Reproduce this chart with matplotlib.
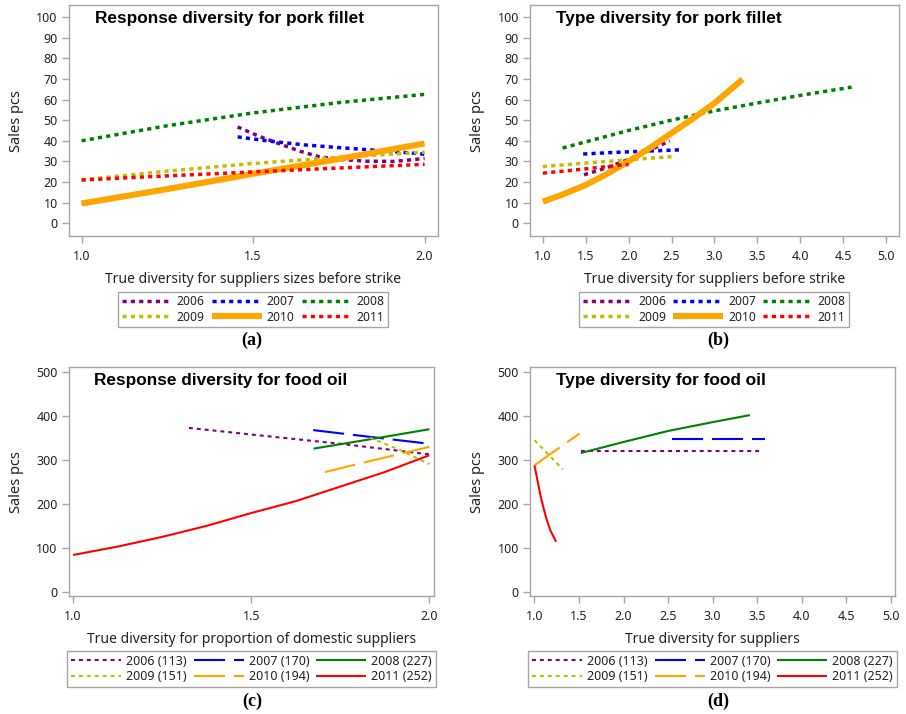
import matplotlib
matplotlib.use("Agg")
import matplotlib.pyplot as plt
import numpy as np

plt.rcParams['font.family'] = ['Noto Sans', 'DejaVu Sans']

# ---------------- data ----------------
years = ["2006", "2007", "2008", "2009", "2010", "2011"]
oil_labels = ["2006 (113)", "2007 (170)", "2008 (227)", "2009 (151)", "2010 (194)", "2011 (252)"]
colors = ["#800080", "#0000ff", "#008000", "#bfbf00", "#ffa500", "#ff0000"]

# (a) Response diversity for pork fillet
a_x = {
    "2006": [1.455, 1.52, 1.587, 1.64, 1.694, 1.76, 1.83, 1.91, 2.0],
    "2007": [1.455, 1.55, 1.65, 1.75, 1.85, 1.93, 2.0],
    "2008": [1.0, 1.25, 1.5, 1.75, 2.0],
    "2009": [1.0, 1.25, 1.5, 1.75, 2.0],
    "2010": [1.0, 1.25, 1.5, 1.75, 2.0],
    "2011": [1.0, 1.25, 1.5, 1.75, 2.0],
}
a_y = {
    "2006": [46.7, 42.0, 37.9, 34.8, 32.2, 30.9, 30.1, 30.0, 31.4],
    "2007": [41.9, 39.8, 38.0, 36.7, 35.5, 34.5, 33.5],
    "2008": [40.0, 47.3, 53.5, 58.5, 62.5],
    "2009": [21.0, 25.3, 29.0, 32.0, 34.5],
    "2010": [9.6, 16.6, 24.0, 31.2, 38.7],
    "2011": [21.0, 23.0, 24.9, 26.8, 28.6],
}

# (b) Type diversity for pork fillet
b_x = {
    "2006": [1.48, 1.75, 2.0, 2.25, 2.48],
    "2007": [1.47, 1.8, 2.2, 2.6],
    "2008": [1.23, 1.5, 2.0, 2.5, 3.0, 3.5, 4.0, 4.6],
    "2009": [1.0, 1.5, 2.0, 2.5],
    "2010": [1.0, 1.25, 1.5, 1.75, 2.0, 2.25, 2.5, 2.75, 3.0, 3.33],
    "2011": [1.0, 1.5, 2.0],
}
b_y = {
    "2006": [23.5, 27.0, 31.0, 35.5, 40.0],
    "2007": [33.6, 34.3, 35.0, 35.6],
    "2008": [36.5, 39.5, 45.0, 50.0, 54.5, 58.3, 62.0, 66.0],
    "2009": [27.5, 29.2, 30.8, 32.3],
    "2010": [10.5, 14.3, 18.6, 24.0, 30.0, 36.6, 43.7, 50.8, 58.2, 69.8],
    "2011": [24.3, 26.4, 28.6],
}

# (c) Response diversity for food oil
c_x = {
    "2006": [1.325, 1.5, 1.75, 2.0],
    "2007": [1.674, 1.84, 2.0],
    "2008": [1.675, 1.84, 2.0],
    "2009": [1.833, 1.92, 2.0],
    "2010": [1.707, 1.85, 2.0],
    "2011": [1.0, 1.125, 1.25, 1.375, 1.5, 1.625, 1.75, 1.875, 2.0],
}
c_y = {
    "2006": [373, 358, 337, 313],
    "2007": [368, 352, 337],
    "2008": [326, 348, 370],
    "2009": [351, 322, 291],
    "2010": [273, 301, 330],
    "2011": [85, 104, 126, 151, 180, 207, 240, 273, 311],
}

# (d) Type diversity for food oil
d_x = {
    "2006": [1.52, 2.5, 3.53],
    "2007": [2.545, 3.0, 3.59],
    "2008": [1.52, 2.0, 2.5, 3.0, 3.42],
    "2009": [1.0, 1.16, 1.318],
    "2010": [1.0, 1.25, 1.506],
    "2011": [1.0, 1.03, 1.063, 1.10, 1.13, 1.18, 1.243],
}
d_y = {
    "2006": [320, 320, 320],
    "2007": [348, 348, 348],
    "2008": [316, 341, 366, 386, 402],
    "2009": [345, 312, 279],
    "2010": [288, 324, 360],
    "2011": [288, 258, 224, 193, 170, 140, 115],
}

# ---------------- styles ----------------
pork_styles = {y: dict(lw=2.5, dashes=(1.2, 1.2)) for y in years}
pork_styles["2010"] = dict(lw=4.4, dashes=())
oil_styles = {
    "2006": dict(lw=1.5, dashes=(1.9, 1.9)),
    "2007": dict(lw=1.5, dashes=(14.9, 4.3)),
    "2008": dict(lw=1.5, dashes=()),
    "2009": dict(lw=1.5, dashes=(1.9, 1.9)),
    "2010": dict(lw=1.5, dashes=(14.9, 4.3)),
    "2011": dict(lw=1.5, dashes=()),
}

fig = plt.figure(figsize=(9.06, 7.14), dpi=100)

SPINE = "#a6a6a6"
TXT = "#222222"


def style_axes(ax, xlim, ylim, xticks, yticks, xlabel, title, xl_y):
    ax.set_xlim(*xlim)
    ax.set_ylim(*ylim)
    ax.set_xticks(xticks)
    ax.set_xticklabels([f"{t:.1f}" for t in xticks])
    ax.set_yticks(yticks)
    ax.set_yticklabels([f"{int(t)}" for t in yticks])
    for s in ax.spines.values():
        s.set_color(SPINE)
        s.set_linewidth(1.0)
    ax.tick_params(axis='both', direction='out', length=5, width=1.0,
                   color=SPINE, labelsize=9, labelcolor=TXT)
    ax.tick_params(axis='x', pad=5)
    ax.tick_params(axis='y', pad=3)
    ax.set_xlabel(xlabel, fontsize=10, color=TXT)
    ax.xaxis.set_label_coords(0.5, xl_y)
    ax.set_ylabel("Sales pcs", fontsize=10.5, color=TXT)
    ax.yaxis.set_label_coords(-0.122, 0.5)
    ax.text(0.07, 0.942, title, transform=ax.transAxes, fontsize=12.4,
            fontweight='bold', va='center', ha='left', color='black',
            family=['Liberation Sans', 'DejaVu Sans'])


def draw(ax, xs, ys, styles, labels):
    handles = []
    for yr, col, lab in zip(years, colors, labels):
        st = styles[yr]
        ln, = ax.plot(xs[yr], ys[yr], color=col, lw=st['lw'], label=lab,
                      solid_capstyle='butt', dash_capstyle='butt')
        if st['dashes']:
            ln.set_dashes(st['dashes'])
        handles.append(ln)
    return handles


def legend(ax, handles, labels, y, fs):
    order = [0, 3, 1, 4, 2, 5]  # fill row-wise
    em = fs * 100 / 72
    leg = ax.legend([handles[i] for i in order], [labels[i] for i in order],
                    loc='center', bbox_to_anchor=(0.5, y),
                    ncol=3, fontsize=fs, frameon=True, fancybox=False,
                    edgecolor=SPINE, framealpha=1, handlelength=50 / em,
                    handletextpad=5 / em, columnspacing=7 / em, labelspacing=0.2,
                    borderpad=0.3, borderaxespad=0)
    leg.get_frame().set_linewidth(1.0)
    for t in leg.get_texts():
        t.set_color(TXT)


ax_a = fig.add_axes([0.076, 0.669, 0.407, 0.324])
h = draw(ax_a, a_x, a_y, pork_styles, years)
style_axes(ax_a, (0.963, 2.038), (-6.3, 105.8), [1.0, 1.5, 2.0], range(0, 101, 10),
           "True diversity for suppliers sizes before strike",
           "Response diversity for pork fillet", -0.156)
legend(ax_a, h, years, -0.316, 8.7)

ax_b = fig.add_axes([0.585, 0.669, 0.407, 0.324])
h = draw(ax_b, b_x, b_y, pork_styles, years)
style_axes(ax_b, (0.85, 5.15), (-6.3, 105.8), list(np.arange(1.0, 5.01, 0.5)), range(0, 101, 10),
           "True diversity for suppliers before strike",
           "Type diversity for pork fillet", -0.156)
legend(ax_b, h, years, -0.316, 8.7)

ax_c = fig.add_axes([0.076, 0.165, 0.403, 0.321])
h = draw(ax_c, c_x, c_y, oil_styles, oil_labels)
style_axes(ax_c, (0.988, 2.013), (-8.4, 511), [1.0, 1.5, 2.0], range(0, 501, 100),
           "True diversity for proportion of domestic suppliers",
           "Response diversity for food oil", -0.157)
legend(ax_c, h, oil_labels, -0.318, 9)

ax_d = fig.add_axes([0.585, 0.165, 0.403, 0.321])
h = draw(ax_d, d_x, d_y, oil_styles, oil_labels)
style_axes(ax_d, (0.95, 5.05), (-8.4, 511), list(np.arange(1.0, 5.01, 0.5)), range(0, 501, 100),
           "True diversity for suppliers",
           "Type diversity for food oil", -0.157)
legend(ax_d, h, oil_labels, -0.318, 9)

for lab, x, y in [("(a)", 0.278, 0.524), ("(b)", 0.7925, 0.524),
                  ("(c)", 0.278, 0.0175), ("(d)", 0.7925, 0.0175)]:
    fig.text(x, y, lab, ha='center', va='center', fontsize=13,
             fontweight='bold', family=['Liberation Serif', 'DejaVu Serif'])

fig.savefig("out.png", dpi=100)
